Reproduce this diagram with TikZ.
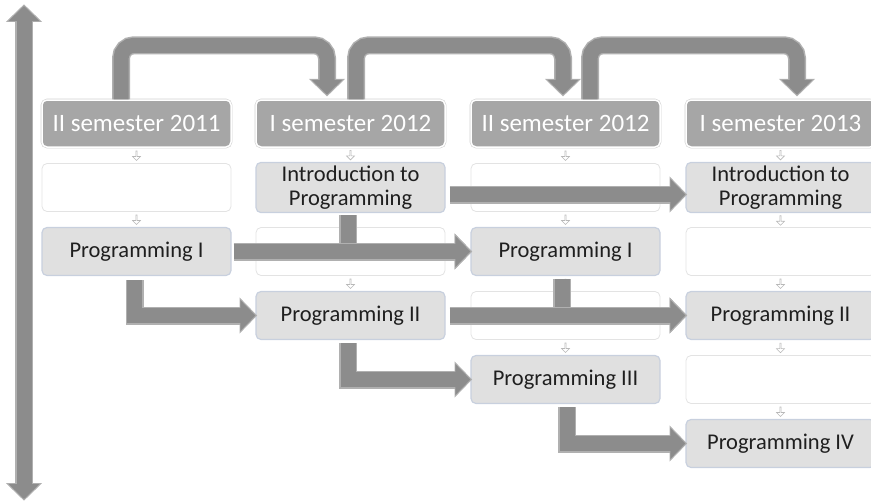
\documentclass[tikz,border=0pt]{standalone}
\usepackage{fontspec}
\setmainfont{Carlito}
\usetikzlibrary{arrows.meta,shapes.arrows}
\definecolor{headgray}{HTML}{A6A6A6}
\definecolor{boxgray}{HTML}{E0E0E0}
\definecolor{boxrim}{HTML}{C8D0DE}
\definecolor{emptyrim}{HTML}{E3E3E3}
\definecolor{flowgray}{HTML}{8C8C8C}
\definecolor{flowrim}{HTML}{B0B0B0}
\tikzstyle{every picture}+=[x=1pt,y=-1pt]
\tikzstyle{every picture}+=[node distance=64pt]
\tikzstyle{sem}=[rounded corners=5pt, fill=headgray, draw=white, line width=1.5pt]
\tikzstyle{sem}+=[preaction={draw=black!18, line width=2.6pt}]
\tikzstyle{sem}+=[minimum width=189pt, minimum height=47pt]
\tikzstyle{sem}+=[text=white, font=\fontsize{25}{29}\selectfont]
\tikzstyle{course}=[rounded corners=5pt, fill=boxgray, draw=boxrim, line width=1.2pt]
\tikzstyle{course}+=[minimum width=189pt, minimum height=48pt]
\tikzstyle{course}+=[text=black!88, align=center, font=\fontsize{22.5}{24}\selectfont]
\tikzstyle{blank}=[rounded corners=5pt, fill=white, draw=emptyrim, line width=0.8pt]
\tikzstyle{blank}+=[minimum width=189pt, minimum height=48pt]
\tikzstyle{gapmark}=[single arrow, shape border rotate=270, draw=black!28, fill=white]
\tikzstyle{gapmark}+=[line width=0.6pt, minimum width=8pt, minimum height=9.5pt]
\tikzstyle{gapmark}+=[single arrow head extend=1.5pt, inner sep=0pt]
\tikzstyle{flow}=[draw=flowgray, line width=15pt, -{Triangle[width=30pt,length=15pt]}]
\tikzstyle{flow}+=[preaction={draw=flowrim, line width=18pt, shorten >=-1.7pt, -{Triangle[width=35pt,length=17.5pt]}}]
\tikzstyle{hop}=[flow, rounded corners=13pt]
\tikzstyle{span}=[draw=flowgray, line width=15pt]
\tikzstyle{span}+=[{Triangle[width=30pt,length=15pt]}-{Triangle[width=30pt,length=15pt]}]
\tikzstyle{span}+=[preaction={draw=flowrim, line width=18pt, shorten >=-1.7pt, shorten <=-1.7pt, {Triangle[width=35pt,length=17.5pt]}-{Triangle[width=35pt,length=17.5pt]}}]

\begin{document}
\begin{tikzpicture}
\useasboundingbox (0,0) rectangle (871,501);
\clip (0,0) rectangle (871,501);

\node[sem] (s1) at (136.5,123.5) {II semester 2011};
\node[sem] (s2) at (350.5,123.5) {I semester 2012};
\node[sem] (s3) at (565.5,123.5) {II semester 2012};
\node[sem] (s4) at (780.5,123.5) {I semester 2013};

\node[blank] (s1r1) [below of=s1] {};
\node[course] (s1r2) [below of=s1r1] {Programming I};

\node[course] (s2r1) [below of=s2] {Introduction to\\Programming};
\node[blank] (s2r2) [below of=s2r1] {};
\node[course] (s2r3) [below of=s2r2] {Programming II};

\node[blank] (s3r1) [below of=s3] {};
\node[course] (s3r2) [below of=s3r1] {Programming I};
\node[blank] (s3r3) [below of=s3r2] {};
\node[course] (s3r4) [below of=s3r3] {Programming III};

\node[course] (s4r1) [below of=s4] {Introduction to\\Programming};
\node[blank] (s4r2) [below of=s4r1] {};
\node[course] (s4r3) [below of=s4r2] {Programming II};
\node[blank] (s4r4) [below of=s4r3] {};
\node[course] (s4r5) [below of=s4r4] {Programming IV};

\path
  (s1) -- node[gapmark] {} (s1r1)
  (s1r1) -- node[gapmark] {} (s1r2)
  (s2) -- node[gapmark] {} (s2r1)
  (s2r1) -- node[gapmark] {} (s2r2)
  (s2r2) -- node[gapmark] {} (s2r3)
  (s3) -- node[gapmark] {} (s3r1)
  (s3r1) -- node[gapmark] {} (s3r2)
  (s3r2) -- node[gapmark] {} (s3r3)
  (s3r3) -- node[gapmark] {} (s3r4)
  (s4) -- node[gapmark] {} (s4r1)
  (s4r1) -- node[gapmark] {} (s4r2)
  (s4r2) -- node[gapmark] {} (s4r3)
  (s4r3) -- node[gapmark] {} (s4r4)
  (s4r4) -- node[gapmark] {} (s4r5)
  ;

% semester to semester
\draw[hop] ([xshift=-15.5pt]s1.north) -- ++(0,-54) -| ([xshift=-23.5pt,yshift=4.5pt]s2.north);
\draw[hop] ([xshift=5.5pt]s2.north) -- ++(0,-54) -| ([xshift=-2.5pt,yshift=4.5pt]s3.north);
\draw[hop] ([xshift=24.5pt]s3.north) -- ++(0,-54) -| ([xshift=16.5pt,yshift=4.5pt]s4.north);

% time axis
\coordinate (past) at (24,6);
\coordinate (future) at (24,499);
\draw[span] (past) -- (future);

% courses
\draw[flow] ([xshift=4pt,yshift=-7pt]s2r1.east) -- ([yshift=-7pt]s4r1.west);
\draw[flow] ([xshift=-2.5pt,yshift=-2pt]s2r1.south) |- (s3r2.west);
\draw[flow] ([xshift=2pt]s1r2.east) -- (s3r2.west);
\draw[flow] ([xshift=-2pt,yshift=-4pt]s1r2.south) |- (s2r3.west);
\draw[flow] ([xshift=-3.5pt,yshift=-3pt]s3r2.south) |- (s4r3.west);
\draw[flow] ([xshift=4pt]s2r3.east) -- (s4r3.west);
\draw[flow] ([xshift=-2.5pt,yshift=-3pt]s2r3.south) |- (s3r4.west);
\draw[flow] ([xshift=1.5pt,yshift=-3pt]s3r4.south) |- (s4r5.west);
\end{tikzpicture}
\end{document}
